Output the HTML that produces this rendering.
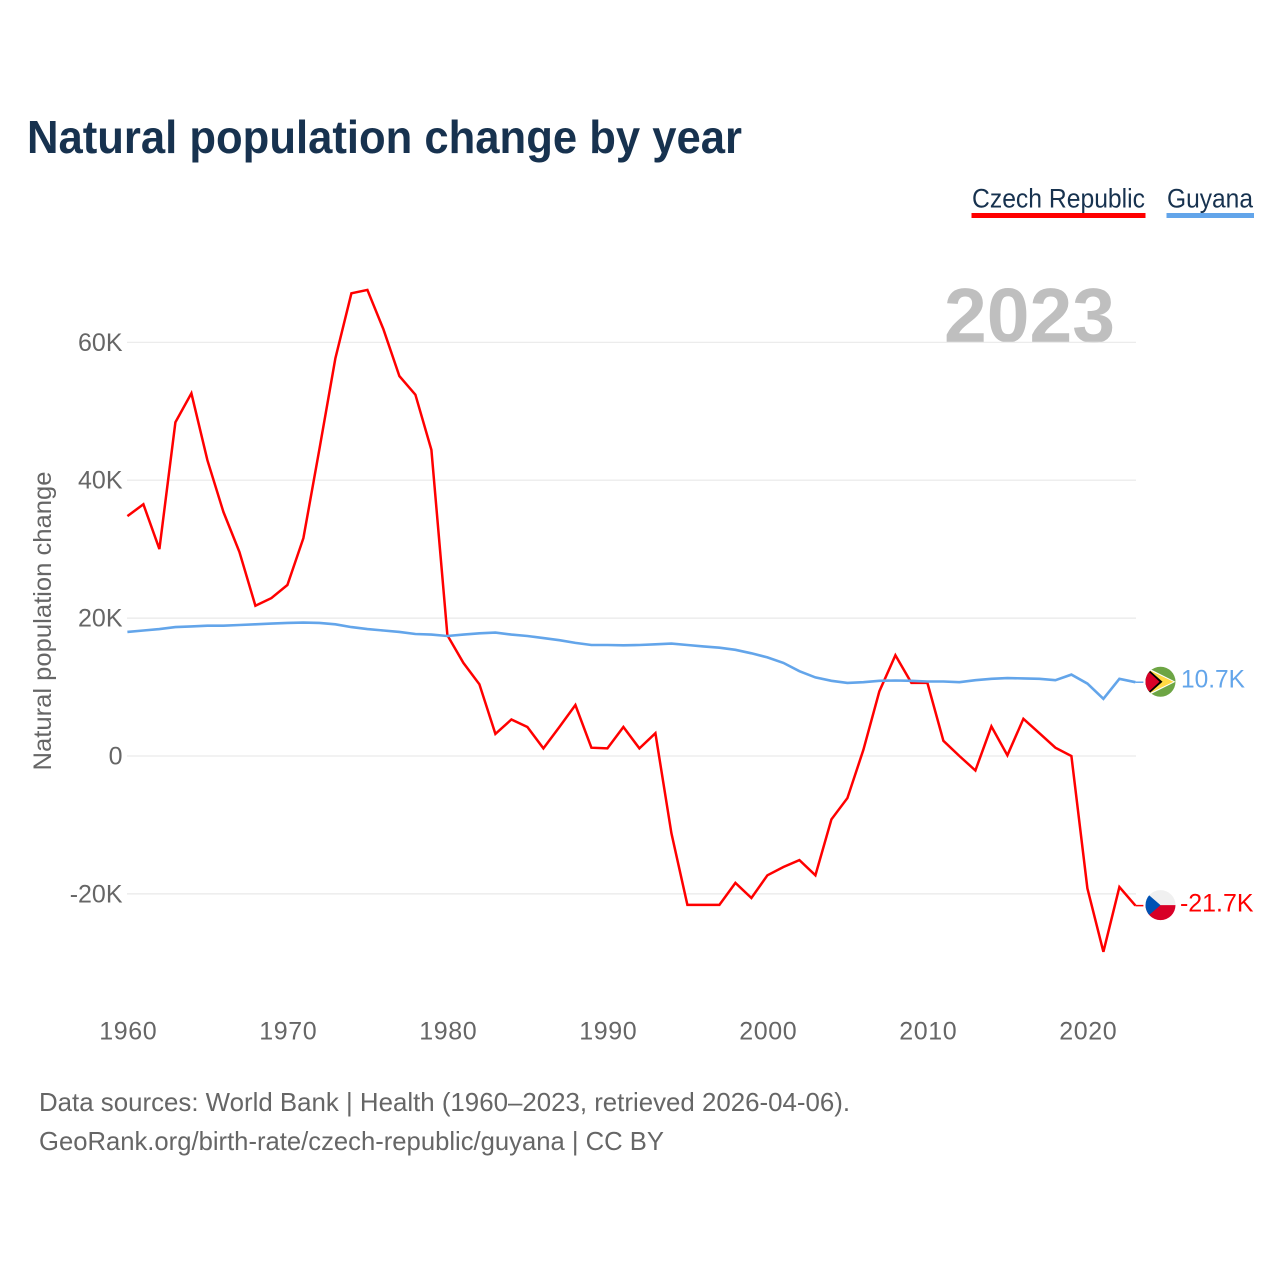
<!DOCTYPE html>
<html lang="en">
<head>
<meta charset="utf-8">
<title>Natural population change by year</title>
<style>
html,body{margin:0;padding:0;background:#fff;width:1280px;height:1280px;overflow:hidden}
svg{display:block;font-family:"Liberation Sans",sans-serif}
</style>
</head>
<body>
<svg id="chart" width="1280" height="1280" viewBox="0 0 1280 1280" xmlns="http://www.w3.org/2000/svg">
  <defs>
    <clipPath id="flag-clip"><circle cx="0" cy="0" r="15"/></clipPath>
  </defs>
  <text x="27" y="153" font-size="46" font-weight="700" fill="#17324f" textLength="715" lengthAdjust="spacingAndGlyphs">Natural population change by year</text>

  <g>
    <text x="972" y="207.5" font-size="27" fill="#17324f" textLength="173" lengthAdjust="spacingAndGlyphs">Czech Republic</text>
    <rect x="971.5" y="213" width="174" height="5" fill="#ff0000"/>
  </g>
  <g>
    <text x="1167" y="207.5" font-size="27" fill="#17324f" textLength="86" lengthAdjust="spacingAndGlyphs">Guyana</text>
    <rect x="1166.5" y="213" width="87.5" height="5" fill="#63a5ea"/>
  </g>

  <text x="944" y="342" font-size="77" font-weight="700" fill="#bfbfbf" textLength="171" lengthAdjust="spacingAndGlyphs">2023</text>

  <g id="grid"></g>
  <g id="y-ticks"></g>
  <g id="x-ticks"></g>

  <text transform="translate(51,621) rotate(-90)" text-anchor="middle" font-size="25" fill="#666666" textLength="299" lengthAdjust="spacingAndGlyphs">Natural population change</text>

  <g id="series"></g>
  <g id="end-markers"></g>

  <text x="39" y="1111" font-size="26" fill="#666666" textLength="811" lengthAdjust="spacingAndGlyphs">Data sources: World Bank | Health (1960–2023, retrieved 2026-04-06).</text>
  <text x="39" y="1150" font-size="26" fill="#666666" textLength="625" lengthAdjust="spacingAndGlyphs">GeoRank.org/birth-rate/czech-republic/guyana | CC BY</text>
</svg>
<script>
const startYear = 1960;
const czechValues = [34.8,36.5,30.0,48.4,52.6,42.9,35.4,29.6,21.8,22.9,24.8,31.6,44.5,57.7,67.1,67.6,61.9,55.1,52.4,44.4,17.5,13.5,10.4,3.2,5.3,4.2,1.1,4.2,7.4,1.2,1.1,4.2,1.1,3.3,-11.2,-21.6,-21.6,-21.6,-18.4,-20.6,-17.3,-16.1,-15.1,-17.3,-9.2,-6.1,0.9,9.4,14.6,10.6,10.6,2.2,0.0,-2.1,4.3,0.1,5.4,3.3,1.2,0.0,-19.2,-28.4,-19.0,-21.7];
const guyanaValues = [18.0,18.2,18.4,18.7,18.8,18.9,18.9,19.0,19.1,19.2,19.3,19.35,19.3,19.1,18.7,18.4,18.2,18.0,17.7,17.6,17.4,17.6,17.8,17.9,17.6,17.4,17.1,16.8,16.4,16.1,16.1,16.05,16.1,16.2,16.3,16.1,15.9,15.7,15.4,14.9,14.3,13.5,12.3,11.4,10.9,10.6,10.7,10.9,10.95,10.9,10.8,10.8,10.7,11.0,11.2,11.3,11.25,11.2,11.0,11.8,10.5,8.3,11.2,10.7];
const yTickValues = [60,40,20,0,-20];
const yTickLabels = ["60K","40K","20K","0","-20K"];
const xTickYears = [1960,1970,1980,1990,2000,2010,2020];
const czechEndLabel = "-21.7K";
const guyanaEndLabel = "10.7K";

const NS = "http://www.w3.org/2000/svg";
const xOf = function (year) { return 127.4 + (year - 1960) * 16; };
const yOf = function (v) { return 756 - v * 6.895; };
const make = function (tag, parent) {
  const el = document.createElementNS(NS, tag);
  parent.appendChild(el);
  return el;
};

const gridG = document.getElementById("grid");
const yG = document.getElementById("y-ticks");
yTickValues.forEach(function (v, i) {
  const line = make("line", gridG);
  
  
  line.setAttribute("x1", 127);
  line.setAttribute("x2", 1136);
  line.setAttribute("y1", yOf(v));
  line.setAttribute("y2", yOf(v));
  line.setAttribute("stroke", "#e9e9e9");
  line.setAttribute("stroke-width", 1.2);
  const t = make("text", yG);
  
  
  t.setAttribute("x", 122.5);
  t.setAttribute("y", yOf(v) + 8.5);
  t.setAttribute("text-anchor", "end");
  t.setAttribute("font-size", 25);
  t.setAttribute("fill", "#666666");
  t.textContent = yTickLabels[i];
});

const xG = document.getElementById("x-ticks");
xTickYears.forEach(function (year) {
  const t = make("text", xG);
  
  
  t.setAttribute("x", xOf(year) + 0.8);
  t.setAttribute("y", 1039.5);
  t.setAttribute("text-anchor", "middle");
  t.setAttribute("font-size", 25);
  t.setAttribute("letter-spacing", "0.6");
  t.setAttribute("fill", "#666666");
  t.textContent = String(year);
});

const seriesG = document.getElementById("series");
const pointsOf = function (values) {
  return values.map(function (v, i) {
    return xOf(startYear + i).toFixed(1) + "," + yOf(v).toFixed(1);
  }).join(" ");
};

const czechLine = make("polyline", seriesG);


czechLine.setAttribute("points", pointsOf(czechValues));
czechLine.setAttribute("fill", "none");
czechLine.setAttribute("stroke", "#ff0000");
czechLine.setAttribute("stroke-width", 2.5);
czechLine.setAttribute("stroke-linejoin", "miter");

const guyanaLine = make("polyline", seriesG);


guyanaLine.setAttribute("points", pointsOf(guyanaValues));
guyanaLine.setAttribute("fill", "none");
guyanaLine.setAttribute("stroke", "#63a5ea");
guyanaLine.setAttribute("stroke-width", 2.6);

const markersG = document.getElementById("end-markers");
const lastX = xOf(startYear + czechValues.length - 1);

const shape = function (parent, tag, attrs) {
  const el = make(tag, parent);
  Object.keys(attrs).forEach(function (k) { el.setAttribute(k, attrs[k]); });
  return el;
};

/* Guyana end marker */
const guyanaY = yOf(guyanaValues[guyanaValues.length - 1]);
const guyanaTail = make("line", markersG);


guyanaTail.setAttribute("x1", lastX);
guyanaTail.setAttribute("x2", lastX + 8);
guyanaTail.setAttribute("y1", guyanaY);
guyanaTail.setAttribute("y2", guyanaY);
guyanaTail.setAttribute("stroke", "#63a5ea");
guyanaTail.setAttribute("stroke-width", 1.5);

const guyanaFlag = make("g", markersG);


guyanaFlag.setAttribute("transform", "translate(1160.5," + (guyanaY - 0.5) + ")");
guyanaFlag.setAttribute("clip-path", "url(#flag-clip)");
shape(guyanaFlag, "rect", { x: -15, y: -16, width: 30, height: 32, fill: "#6da544" });
shape(guyanaFlag, "polygon", { points: "-15,-15 15,0 -15,15", fill: "#ffffff" });
shape(guyanaFlag, "polygon", { points: "-13,-12.5 13,0 -13,12.5", fill: "#ffda44" });
shape(guyanaFlag, "polygon", { points: "-15,-15 2,0 -15,15", fill: "#000000" });
shape(guyanaFlag, "polygon", { points: "-15,-13 -1,0 -15,13", fill: "#d80027" });

const guyanaText = make("text", markersG);


guyanaText.setAttribute("x", 1181);
guyanaText.setAttribute("y", guyanaY + 5.5);
guyanaText.setAttribute("font-size", 25);
guyanaText.setAttribute("fill", "#63a5ea");
guyanaText.setAttribute("textLength", 64);
guyanaText.setAttribute("lengthAdjust", "spacingAndGlyphs");
guyanaText.textContent = guyanaEndLabel;

/* Czech Republic end marker */
const czechY = yOf(czechValues[czechValues.length - 1]);
const czechTail = make("line", markersG);


czechTail.setAttribute("x1", lastX);
czechTail.setAttribute("x2", lastX + 8);
czechTail.setAttribute("y1", czechY);
czechTail.setAttribute("y2", czechY);
czechTail.setAttribute("stroke", "#ff0000");
czechTail.setAttribute("stroke-width", 1.5);

const czechFlag = make("g", markersG);


czechFlag.setAttribute("transform", "translate(1160.5," + (czechY - 0.5) + ")");
czechFlag.setAttribute("clip-path", "url(#flag-clip)");
shape(czechFlag, "rect", { x: -15, y: -16, width: 30, height: 16, fill: "#f0f0f0" });
shape(czechFlag, "rect", { x: -15, y: 0, width: 30, height: 16, fill: "#d80027" });
shape(czechFlag, "polygon", { points: "-15,-13 0,0 -15,13", fill: "#0052b4" });

const czechText = make("text", markersG);


czechText.setAttribute("x", 1180);
czechText.setAttribute("y", czechY + 6);
czechText.setAttribute("font-size", 25);
czechText.setAttribute("fill", "#ff0000");
czechText.setAttribute("textLength", 73.5);
czechText.setAttribute("lengthAdjust", "spacingAndGlyphs");
czechText.textContent = czechEndLabel;
</script>
</body>
</html>
